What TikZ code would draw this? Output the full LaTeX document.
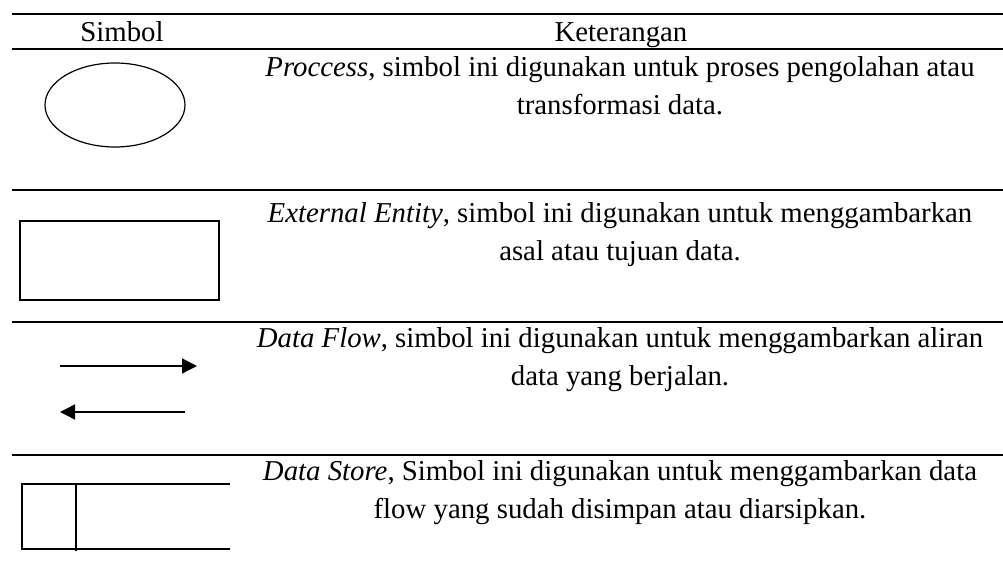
\documentclass[tikz,border=0pt]{standalone}
\usepackage{fontspec}
\setmainfont{Liberation Serif}
\usetikzlibrary{shapes.geometric,arrows.meta}

\tikzset{
  rule/.style={line width=0.7pt},
  sym/.style={draw, line width=0.6pt, inner sep=0pt},
  desc/.style={anchor=base, align=center, inner sep=0pt,
    font=\fontsize{14.4}{19.4}\selectfont},
  flow/.style={line width=0.7pt, -{Triangle[length=7.5pt,width=7.5pt]}}
}

\begin{document}
\begin{tikzpicture}[x=0.5pt,y=-0.5pt]
      \useasboundingbox (0,0) rectangle (1003,572);

      % table rules
      \draw[rule] (12,14) -- (1003,14);
      \draw[rule] (12,49) -- (1003,49);
      \draw[rule] (12,190) -- (1003,190);
      \draw[rule] (12,322) -- (1003,322);
      \draw[rule] (12,455) -- (1003,455);

      % header
      \node[desc] (hsym) at (122,42) {Simbol};
      \node[desc] (hket) at (621,42) {Keterangan};

      % process (base sits on the last line)
      \node[sym, ellipse, minimum width=70pt, minimum height=42pt] (proc) at (115,105){};
      \node[desc] (tproc) at (620,115) {\textit{Proccess}, simbol ini digunakan untuk proses pengolahan atau\\transformasi data.};

      % external entity
      \node[sym, rectangle, minimum width=99.5pt, minimum height=39.5pt] (ent) at (119.5,260.5){};
      \node[desc] (tent) at (620,261) {\textit{External Entity}, simbol ini digunakan untuk menggambarkan\\asal atau tujuan data.};

      % data flow
      \coordinate (fa) at (60,366);
      \coordinate (fb) at (197,366);
      \coordinate (fc) at (185,412);
      \coordinate (fd) at (60,412);
      \draw[flow] (fa) -- (fb);
      \draw[flow] (fc) -- (fd);
      \node[desc] (tflow) at (620,386) {\textit{Data Flow}, simbol ini digunakan untuk menggambarkan aliran\\data yang berjalan.};

      % data store
      \coordinate (s1) at (22,484);
      \coordinate (s2) at (230,484);
      \coordinate (s3) at (22,549);
      \coordinate (s4) at (230,549);
      \coordinate (s5) at (76,484);
      \coordinate (s6) at (76,551);
      \draw[line width=0.6pt] (s2) -- (s1) -- (s3) -- (s4);
      \draw[line width=0.6pt] (s5) -- (s6);
      \node[desc] (tstore) at (620,519) {\textit{Data Store}, Simbol ini digunakan untuk menggambarkan data\\flow yang sudah disimpan atau diarsipkan.};

\end{tikzpicture}
\end{document}
